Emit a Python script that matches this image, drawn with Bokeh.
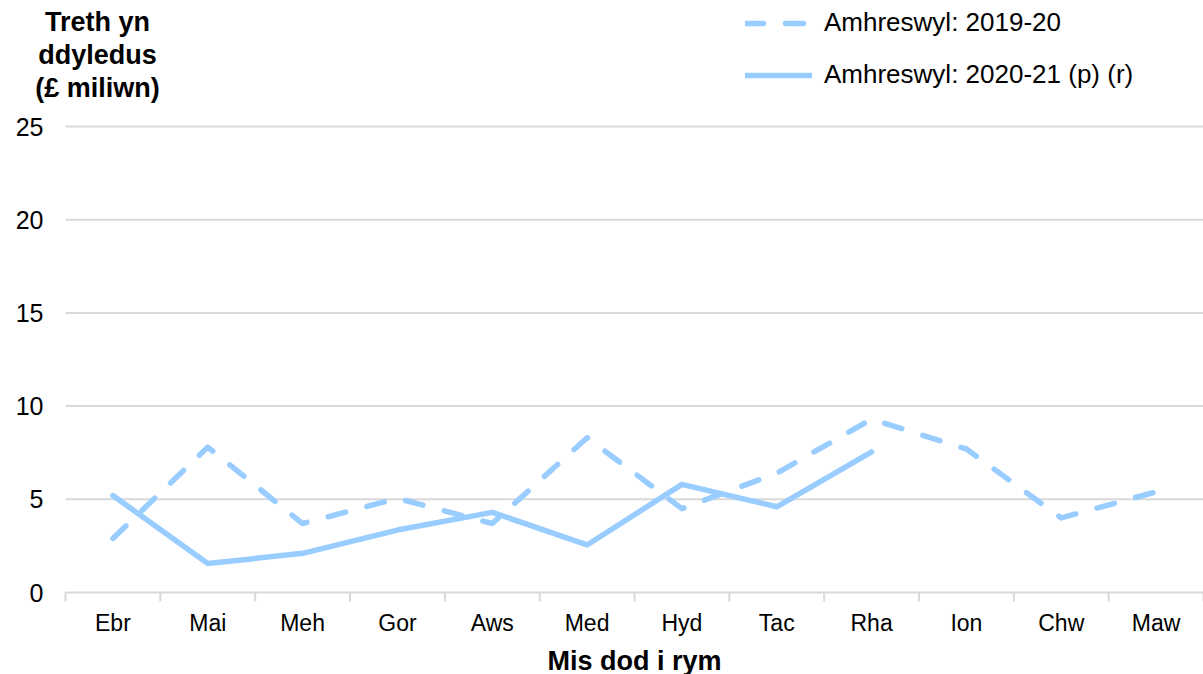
from bokeh.plotting import figure
from bokeh.models import Legend, LegendItem, Label, Range1d, Grid
from bokeh.core.properties import value
from bokeh.embed import file_html
from bokeh.resources import INLINE

months = ["Ebr", "Mai", "Meh", "Gor", "Aws", "Med", "Hyd", "Tac", "Rha", "Ion", "Chw", "Maw"]
vals_2019_20 = [2.9, 7.8, 3.7, 5.05, 3.7, 8.3, 4.5, 6.4, 9.3, 7.7, 4.0, 5.4]
vals_2020_21 = [5.2, 1.55, 2.1, 3.35, 4.3, 2.55, 5.8, 4.6, 7.55]
y_ticks = [0, 5, 10, 15, 20, 25]
series_names = ["Amhreswyl: 2019-20", "Amhreswyl: 2020-21 (p) (r)"]
y_title = ["Treth yn", "ddyledus", "(£ miliwn)"]
x_title = "Mis dod i rym"

FONT = "Liberation Sans"
COLOR = "#99ccff"
GRID = "#d9d9d9"

x19 = list(range(len(vals_2019_20)))
x20 = list(range(len(vals_2020_21)))
centers = list(range(len(months)))
bounds = [i - 0.5 for i in range(len(months) + 1)]

W, H = 1203, 674
LEFT_PX = 65      # pixel column where the category area begins
ZERO_PX = 592     # pixel row of y = 0
TOP_PX = 126      # pixel row of y = 25
cat_w = (W - LEFT_PX) / len(months)
x_start = -0.5 - LEFT_PX / cat_w
x_end = len(months) - 0.5
ppu = (ZERO_PX - TOP_PX) / 25.0
y_start = -(H - ZERO_PX) / ppu
y_end = 25 + TOP_PX / ppu

def px_to_x(px):
    return x_start + px / cat_w

def px_to_y(py):
    return (ZERO_PX - py) / ppu

p = figure(width=W, height=H, output_backend="svg", toolbar_location=None,
           x_range=Range1d(x_start, x_end), y_range=Range1d(y_start, y_end),
           x_axis_location=None, y_axis_location=None,
           min_border=0)
p.outline_line_color = None
p.background_fill_color = "white"
p.center = [r for r in p.center if not isinstance(r, Grid)]

# horizontal gridlines (y = 0 doubles as the x-axis line)
p.segment(x0=[-0.5] * len(y_ticks), x1=[x_end] * len(y_ticks), y0=y_ticks, y1=y_ticks,
          line_color=GRID, line_width=2)
# category separator tick marks below the axis line
tick_len = px_to_y(601)
p.segment(x0=bounds, x1=bounds, y0=[0] * len(bounds), y1=[tick_len] * len(bounds),
          line_color=GRID, line_width=2)

r1 = p.line(x19, vals_2019_20, line_color=COLOR, line_width=5.5, line_dash="18 22",
            line_cap="round", line_join="round")
r2 = p.line(x20, vals_2020_21, line_color=COLOR, line_width=5.5,
            line_cap="round", line_join="round")

# y tick labels
p.text(x=[px_to_x(43)] * len(y_ticks), y=y_ticks, text=[str(t) for t in y_ticks],
       text_align="right", text_baseline="middle", text_font=value(FONT),
       text_font_size="25px", text_color="#000000")

# x category labels
p.text(x=centers, y=[px_to_y(622)] * len(months), text=months,
       text_align="center", text_baseline="middle", text_font=value(FONT),
       text_font_size="23px", text_color="#000000")

# x title
p.add_layout(Label(x=(len(months) - 1) / 2, y=px_to_y(660), text=x_title,
                   text_align="center", text_baseline="middle",
                   text_font=FONT, text_font_size="27px", text_font_style="bold",
                   text_color="#000000"))

# y title
for i, t in enumerate(y_title):
    p.add_layout(Label(x=px_to_x(97), y=px_to_y(21 + 33 * i), text=t,
                       text_align="center", text_baseline="middle",
                       text_font=FONT, text_font_size="27px", text_font_style="bold",
                       text_color="#000000"))

legend = Legend(items=[LegendItem(label=series_names[0], renderers=[r1]),
                       LegendItem(label=series_names[1], renderers=[r2])],
                location=(745, H - 90), orientation="vertical")
legend.glyph_width = 67
legend.glyph_height = 26
legend.label_height = 26
legend.spacing = 21
legend.label_standoff = 12
legend.padding = 0
legend.margin = 0
legend.border_line_color = None
legend.background_fill_alpha = 0
legend.label_text_font = FONT
legend.label_text_font_size = "26px"
legend.label_text_color = "#000000"
p.add_layout(legend)

open("out.html", "w").write(file_html(p, INLINE))
